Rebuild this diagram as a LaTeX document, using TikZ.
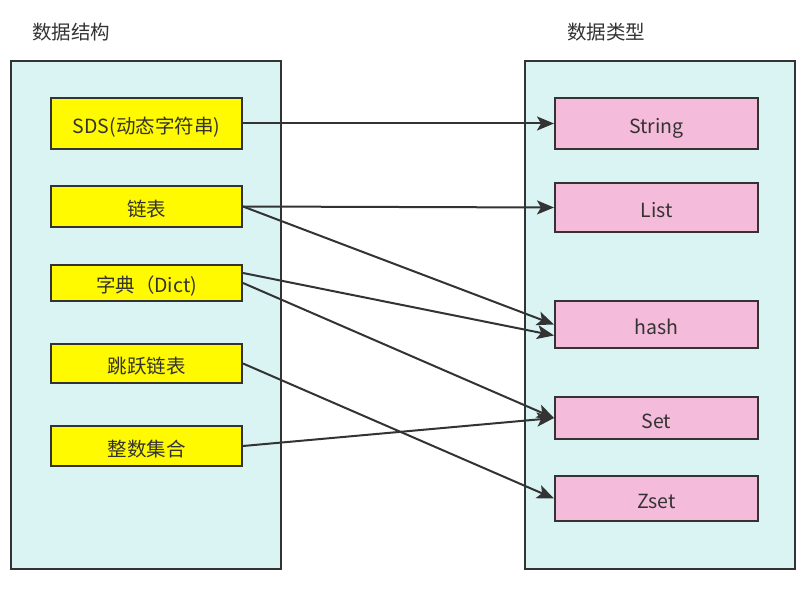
\documentclass[tikz,border=0pt]{standalone}
\usepackage{fontspec}
\setmainfont{Noto Sans CJK SC}
\usepackage{xcolor}
\usetikzlibrary{positioning, arrows.meta}
\definecolor{panelfill}{HTML}{DAF4F4}
\definecolor{dsfill}{HTML}{FFFA00}
\definecolor{typefill}{HTML}{F5BBDA}
\definecolor{inkgray}{HTML}{333333}

\begin{document}
\begin{tikzpicture}[x=1pt, y=-1pt, font=\fontsize{19.5}{22}\selectfont, text=inkgray,
    panel/.style={draw=inkgray, line width=2pt, fill=panelfill},
    dsbox/.style={draw=inkgray, line width=2pt, fill=dsfill, minimum width=191pt, inner sep=0pt, text height=20pt, text depth=0pt},
    typebox/.style={draw=inkgray, line width=2pt, fill=typefill, minimum width=203pt, inner sep=0pt, text height=20pt, text depth=0pt},
    link/.style={draw=inkgray, line width=2pt, -{Stealth[length=17pt, width=14pt, inset=4pt]}}]

    \useasboundingbox (0,0) rectangle (812,604);

    % Two panels with their titles
    \draw[panel] (11,61) rectangle (281,569);
    \draw[panel] (525,61) rectangle (795,569);
    \node (dstitle) at (71,32) {数据结构};
    \node (typetitle) at (606,32) {数据类型};

    % Left column: underlying data structures
    \node[dsbox, minimum height=51pt] (sds) at (146.5,123.5) {SDS(动态字符串)};
    \node[dsbox, minimum height=41pt] (lst) at (146.5,206.5) {链表};
    \node[dsbox, minimum height=36pt] (dict) at (146.5,283) {字典（Dict)};
    \node[dsbox, minimum height=39pt] (skip) at (146.5,363.5) {跳跃链表};
    \node[dsbox, minimum height=40pt] (intset) at (146.5,446) {整数集合};

    % Right column: data types
    \node[typebox, minimum height=51pt] (string) at (656.5,123.5) {String};
    \node[typebox, minimum height=49pt] (list) at (656.5,207.5) {List};
    \node[typebox, minimum height=47pt] (hash) at (656.5,324.5) {hash};
    \node[typebox, minimum height=42pt] (set) at (656.5,418) {Set};
    \node[typebox, minimum height=45pt] (zset) at (656.5,498.5) {Zset};

    % Connections from structures to types
    \draw[link] (sds.east) -- (string.west);
    \draw[link] (lst.east) -- (list.west);
    \draw[link] (lst.east) -- (hash.west);
    \draw[link] ([yshift=10pt]dict.east) -- ([yshift=-11pt]hash.west);
    \draw[link] (dict.east) -- (set.west);
    \draw[link] (skip.east) -- (zset.west);
    \draw[link] (intset.east) -- (set.west);

\end{tikzpicture}
\end{document}
